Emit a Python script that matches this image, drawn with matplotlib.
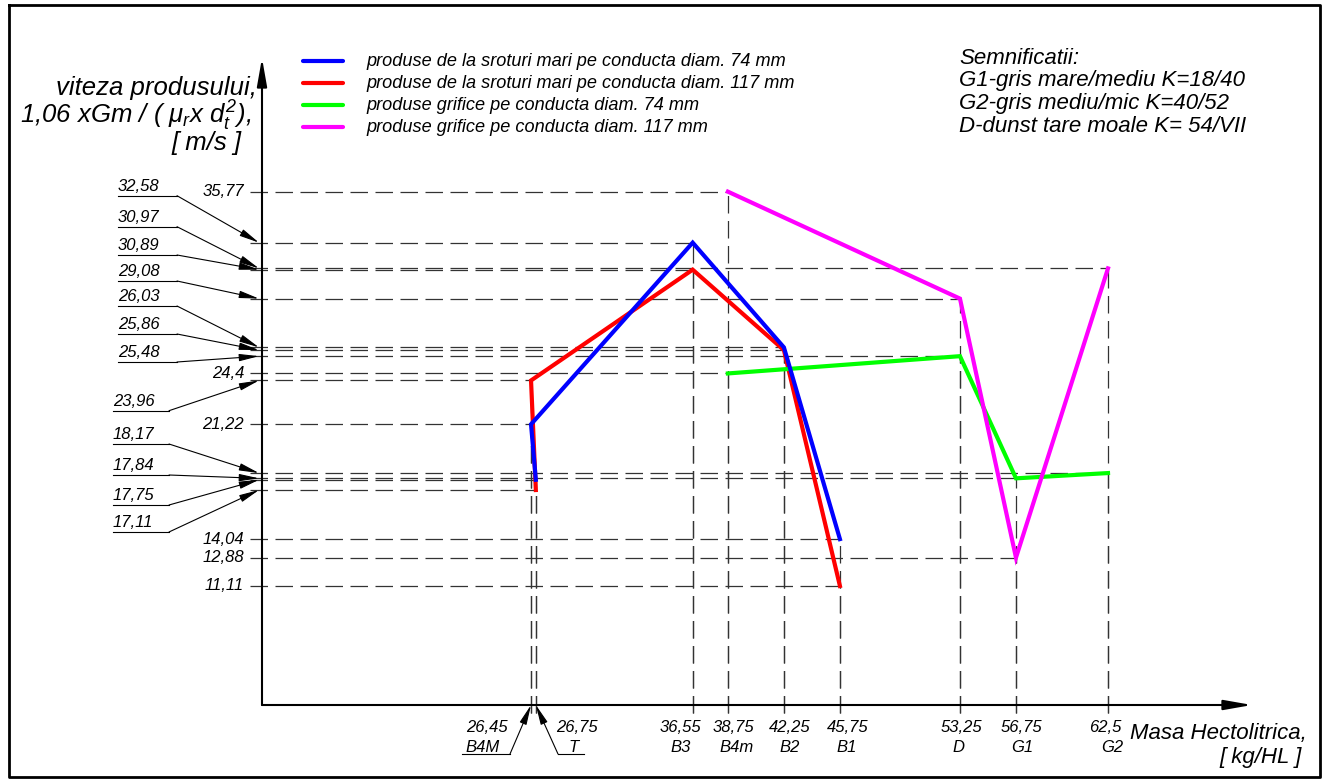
import matplotlib.pyplot as plt

plt.rcParams['font.family'] = ['Liberation Sans', 'DejaVu Sans']
plt.rcParams['font.style'] = 'italic'
plt.rcParams['mathtext.fontset'] = 'custom'
plt.rcParams['mathtext.it'] = 'Liberation Sans:italic'
plt.rcParams['mathtext.rm'] = 'Liberation Sans:italic'

# masa hectolitrica (kg/HL) and viteza produsului (m/s)
mh_sroturi = [26.75, 26.45, 36.55, 42.25, 45.75]
v_sroturi_74 = [17.75, 21.22, 32.58, 26.03, 14.04]
v_sroturi_117 = [17.11, 23.96, 30.89, 25.86, 11.11]
mh_grifice = [38.75, 53.25, 56.75, 62.5]
v_grifice_74 = [24.4, 25.48, 17.84, 18.17]
v_grifice_117 = [35.77, 29.08, 12.88, 30.97]

x_ticks = [26.45, 26.75, 36.55, 38.75, 42.25, 45.75, 53.25, 56.75, 62.5]
x_names = ['B4M', 'T', 'B3', 'B4m', 'B2', 'B1', 'D', 'G1', 'G2']
y_direct = [35.77, 24.4, 21.22, 14.04, 12.88, 11.11]
y_arrow = [32.58, 30.97, 30.89, 29.08, 26.03, 25.86, 25.48,
           23.96, 18.17, 17.84, 17.75, 17.11]

series_labels = [
    'produse de la sroturi mari pe conducta diam. 74 mm',
    'produse de la sroturi mari pe conducta diam. 117 mm',
    'produse grifice pe conducta diam. 74 mm',
    'produse grifice pe conducta diam. 117 mm',
]
series_colors = ['#0000ff', '#ff0000', '#00ff00', '#ff00ff']
notes = ['Semnificatii:', 'G1-gris mare/mediu K=18/40',
         'G2-gris mediu/mic K=40/52', 'D-dunst tare moale K= 54/VII']

# pixel <-> data mapping (drawing is laid out like the CAD sheet)
W, H = 1327, 780
KX, PX0 = 16.005, 107.7
KY, PY0 = 15.99, 763.6


def X(p):
    return (p - PX0) / KX


def Y(p):
    return (PY0 - p) / KY


def fmt(v):
    return f'{v:g}'.replace('.', ',')


fig = plt.figure(figsize=(W / 100, H / 100), dpi=100)
ax = fig.add_axes([0, 0, 1, 1])
ax.set_xlim(X(0), X(W))
ax.set_ylim(Y(H), Y(0))
ax.axis('off')

X0, Y0 = X(262), Y(705)
dash = dict(color='#333333', lw=0.9, ls=(0, (14, 6)), zorder=1)

series = [
    (mh_sroturi, v_sroturi_74),
    (mh_sroturi, v_sroturi_117),
    (mh_grifice, v_grifice_74),
    (mh_grifice, v_grifice_117),
]

# guide lines to every point
for xs, ys in series:
    for x, y in zip(xs, ys):
        ax.plot([X(250), x], [y, y], **dash)
        ax.plot([x, x], [Y(713), y], **dash)

# blue drawn above red, as in the drawing
zorders = [4, 3, 3, 3]
for (xs, ys), c, z in zip(series, series_colors, zorders):
    ax.plot(xs, ys, color=c, lw=3, solid_joinstyle='miter', zorder=z)

# axes with arrows
ax_arrow = dict(arrowstyle='-|>,head_length=1.7,head_width=0.3',
                mutation_scale=10, lw=1.5, color='k', shrinkA=0, shrinkB=0)
ax.annotate('', xy=(X(1252), Y0), xytext=(X0, Y0), arrowprops=ax_arrow)
ax.annotate('', xy=(X0, Y(58)), xytext=(X0, Y0), arrowprops=ax_arrow)

# y tick labels
for v in y_direct:
    ax.text(X(244), v, fmt(v), ha='right', va='center', fontsize=12)

lead_arrow = dict(arrowstyle='-|>,head_length=1.2,head_width=0.22',
                  mutation_scale=10, lw=0.8, color='k', shrinkA=0, shrinkB=0)
under_y = [195.7, 226.7, 255, 281, 306, 334, 362, 410.7, 444, 475, 505, 532]
for i, (v, uy) in enumerate(zip(y_arrow, under_y)):
    tx, kx = (118, 177) if i < 7 else (113, 169)
    ax.plot([X(tx), X(kx)], [Y(uy), Y(uy)], color='k', lw=0.8)
    ax.annotate('', xy=(X(259), v), xytext=(X(kx), Y(uy)), arrowprops=lead_arrow)
    ax.text(X(tx), Y(uy - 2), fmt(v), ha='left', va='bottom', fontsize=12)

# x tick labels
val_dx = [-44, 41, -12, 6, 6, 8, 1, 5, -3]
name_dx = [-48, 38, -12, 9, 6, 7, -1, 6, 4]
for x, name, dv, dn in zip(x_ticks, x_names, val_dx, name_dx):
    ax.text(x + dv / KX, Y(727), fmt(x), ha='center', va='center', fontsize=12)
    ax.text(x + dn / KX, Y(747), name, ha='center', va='center', fontsize=12)

# leaders for B4M and T
ax.plot([X(462), X(510)], [Y(754), Y(754)], color='k', lw=0.8)
ax.annotate('', xy=(x_ticks[0], Y0), xytext=(X(510), Y(754)), arrowprops=lead_arrow)
ax.plot([X(558), X(584)], [Y(754), Y(754)], color='k', lw=0.8)
ax.annotate('', xy=(x_ticks[1], Y0), xytext=(X(558), Y(754)), arrowprops=lead_arrow)

# axis titles
ax.text(X(257), Y(88), 'viteza produsului,', ha='right', va='center', fontsize=18.5)
ax.text(X(251), Y(116), r'1,06 xGm / ( $\mu_r$x $d_t^2$),', ha='right',
        va='center', fontsize=18.5)
ax.text(X(241), Y(143), '[ m/s ]', ha='right', va='center', fontsize=18.5)
ax.text(X(1307), Y(733), 'Masa Hectolitrica,', ha='right', va='center', fontsize=16)
ax.text(X(1302), Y(758), '[ kg/HL ]', ha='right', va='center', fontsize=16)

# legend
for i, (lab, c) in enumerate(zip(series_labels, series_colors)):
    py = 61 + i * 22
    ax.plot([X(303), X(343)], [Y(py), Y(py)], color=c, lw=3, solid_capstyle='round')
    ax.text(X(366), Y(py + 1), lab, ha='left', va='center', fontsize=13.1)

for i, t in enumerate(notes):
    ax.text(X(959), Y(58 + i * 22.7), t, ha='left', va='center', fontsize=16)

# sheet frame
ax.plot([X(9), X(1320), X(1320), X(9), X(9)],
        [Y(5), Y(5), Y(777), Y(777), Y(5)], color='k', lw=2, clip_on=False)

fig.savefig('out.png', dpi=100)
